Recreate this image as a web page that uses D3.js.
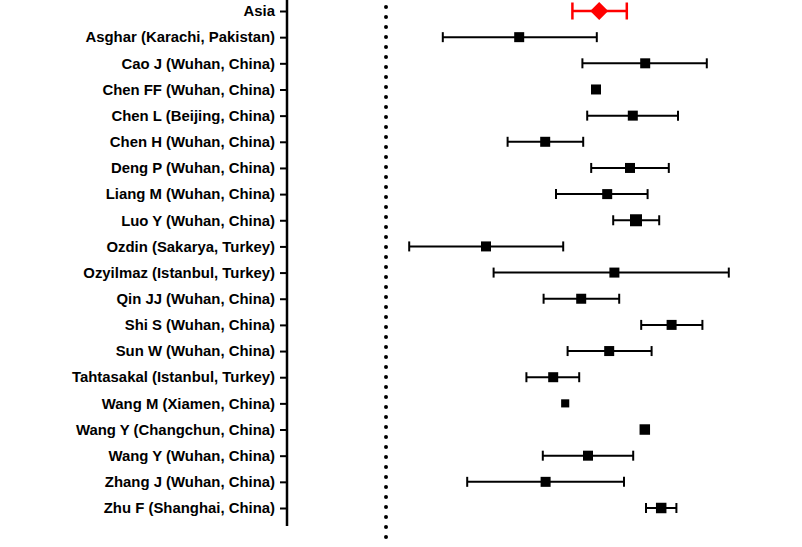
<!DOCTYPE html>
<html><head><meta charset="utf-8">
<script src="https://cdn.jsdelivr.net/npm/d3@7"></script>
<style>body{margin:0;background:#fff}svg{display:block}</style>
</head><body>
<script>
const studies = ["Asia","Asghar (Karachi, Pakistan)","Cao J (Wuhan, China)","Chen FF (Wuhan, China)","Chen L (Beijing, China)","Chen H (Wuhan, China)","Deng P (Wuhan, China)","Liang M (Wuhan, China)","Luo Y (Wuhan, China)","Ozdin (Sakarya, Turkey)","Ozyilmaz (Istanbul, Turkey)","Qin JJ (Wuhan, China)","Shi S (Wuhan, China)","Sun W (Wuhan, China)","Tahtasakal (Istanbul, Turkey)","Wang M (Xiamen, China)","Wang Y (Changchun, China)","Wang Y (Wuhan, China)","Zhang J (Wuhan, China)","Zhu F (Shanghai, China)"];
const estimate = [0.533,0.333,0.648,0.525,0.617,0.398,0.610,0.553,0.625,0.250,0.571,0.488,0.714,0.558,0.418,0.448,0.647,0.505,0.399,0.688];
const lower    = [0.466,0.142,0.491,null,0.503,0.304,0.513,0.425,0.568,0.058,0.269,0.394,0.638,0.454,0.351,null,null,0.392,0.203,0.650];
const upper    = [0.602,0.527,0.802,null,0.730,0.493,0.707,0.654,0.683,0.443,0.857,0.583,0.791,0.664,0.483,null,null,0.618,0.595,0.726];
const weight   = [null,5,5,5,5,5,5,5,7.2,5,5,5,5,5,5,3.3,5.5,5,5,5.5];
const refValue = 0;

const W = 802, H = 547;
const svg = d3.select("body").append("svg").attr("width", W).attr("height", H);

const x = d3.scaleLinear().domain([0, 1]).range([386, 786]);
const y = d3.scalePoint().domain(studies).range([11, 508]);
const size = d3.scaleSqrt().domain([0, 5]).range([0, 10]);
const axisX = 287;

// y axis
const ax = svg.append("g").attr("transform", `translate(${axisX},0)`)
  .call(d3.axisLeft(y).tickSize(7).tickSizeOuter(0).tickPadding(5));
ax.select(".domain").remove();
ax.selectAll(".tick line").attr("stroke", "#000").attr("stroke-width", 2);
ax.selectAll(".tick text").attr("font-family", "'Liberation Sans', Arial, sans-serif")
  .attr("font-weight", "bold").attr("font-size", 14.9).attr("fill", "#000");
svg.append("line").attr("x1", axisX).attr("x2", axisX).attr("y1", 0).attr("y2", 526)
  .attr("stroke", "#000").attr("stroke-width", 2.5);

// reference dotted line
svg.append("line").attr("x1", x(refValue)).attr("x2", x(refValue)).attr("y1", -3).attr("y2", 540)
  .attr("stroke", "#000").attr("stroke-width", 4).attr("stroke-linecap", "round")
  .attr("stroke-dasharray", "0,10");

const rows = studies.map((s, i) => ({s, est: estimate[i], lo: lower[i], hi: upper[i], w: weight[i], pooled: i === 0}));

// error bars
const eb = svg.append("g");
rows.filter(d => d.lo != null).forEach(d => {
  const col = d.pooled ? "#ff0000" : "#000";
  const sw = d.pooled ? 2.5 : 2;
  const ch = d.pooled ? 8.5 : 5;
  const yy = y(d.s);
  eb.append("line").attr("x1", x(d.lo)).attr("x2", x(d.hi)).attr("y1", yy).attr("y2", yy)
    .attr("stroke", col).attr("stroke-width", sw);
  [d.lo, d.hi].forEach(v => eb.append("line").attr("x1", x(v)).attr("x2", x(v))
    .attr("y1", yy - ch).attr("y2", yy + ch).attr("stroke", col).attr("stroke-width", sw));
});

// markers
rows.forEach(d => {
  const cx = x(d.est), cy = y(d.s);
  if (d.pooled) {
    svg.append("path").attr("d", `M${cx-9},${cy}L${cx},${cy-9}L${cx+9},${cy}L${cx},${cy+9}Z`).attr("fill", "#ff0000");
  } else {
    const s = size(d.w);
    svg.append("rect").attr("x", cx - s/2).attr("y", cy - s/2).attr("width", s).attr("height", s).attr("fill", "#000");
  }
});
</script>
</body></html>
